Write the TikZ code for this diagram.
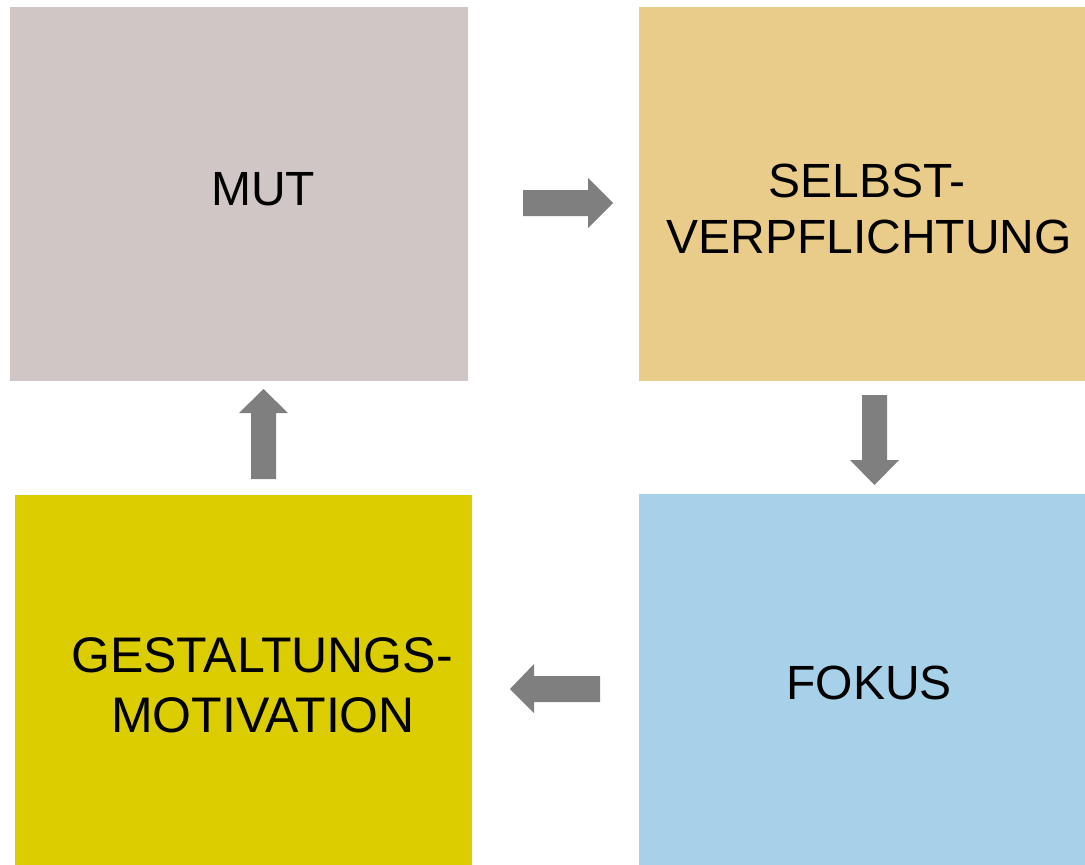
\documentclass[tikz,border=0pt]{standalone}
\usepackage{fontspec}
\setmainfont{Liberation Sans}
\definecolor{mutc}{HTML}{D0C6C6}
\definecolor{selbstc}{HTML}{EACC8A}
\definecolor{gestc}{HTML}{DBCD00}
\definecolor{fokusc}{HTML}{A6D1E8}
\definecolor{arrowc}{HTML}{7F7F7F}
\begin{document}
\begin{tikzpicture}[x=1pt,y=-1pt,
  box/.style={inner sep=0pt,outer sep=0pt,draw=none,rectangle},
  lbl/.style={anchor=base,inner sep=0pt,font=\fontsize{48}{56}\selectfont},
  lblbig/.style={lbl,font=\fontsize{50}{60}\selectfont},
  blockarrow/.style={fill=arrowc,draw=none}]
\useasboundingbox (0,0) rectangle (1085,865);
% boxes
\node[box,fill=mutc,minimum width=458pt,minimum height=374pt] (mut) at (239,194) {};
\node[box,fill=selbstc,minimum width=446pt,minimum height=374pt] (selbst) at (862,194) {};
\node[box,fill=gestc,minimum width=457pt,minimum height=370pt] (gest) at (243.5,680) {};
\node[box,fill=fokusc,minimum width=446pt,minimum height=371pt] (fokus) at (862,679.5) {};
% labels
\node[lbl] (t1) at (263,205) {MUT};
\node[lbl] (t2a) at (867,197) {SELBST-};
\node[lbl] (t2b) at (869,253) {VERPFLICHTUNG};
\node[lbl] (t3) at (869,699) {FOKUS};
\node[lblbig] (t4a) at (262,672) {GESTALTUNGS-};
\node[lblbig] (t4b) at (263,732) {MOTIVATION};
% block arrows
\fill[blockarrow] (523,190) -- (588,190) -- (588,178) -- (613,203) -- (588,228) -- (588,216) -- (523,216) -- cycle;
\fill[blockarrow] (862,395) -- (887,395) -- (887,460) -- (899,460) -- (874.5,485) -- (850,460) -- (862,460) -- cycle;
\fill[blockarrow] (600,676) -- (534,676) -- (534,664) -- (510,689) -- (534,713) -- (534,702) -- (600,702) -- cycle;
\fill[blockarrow] (251,479) -- (251,413) -- (239,413) -- (263.5,389) -- (288,413) -- (276,413) -- (276,479) -- cycle;
\end{tikzpicture}
\end{document}
